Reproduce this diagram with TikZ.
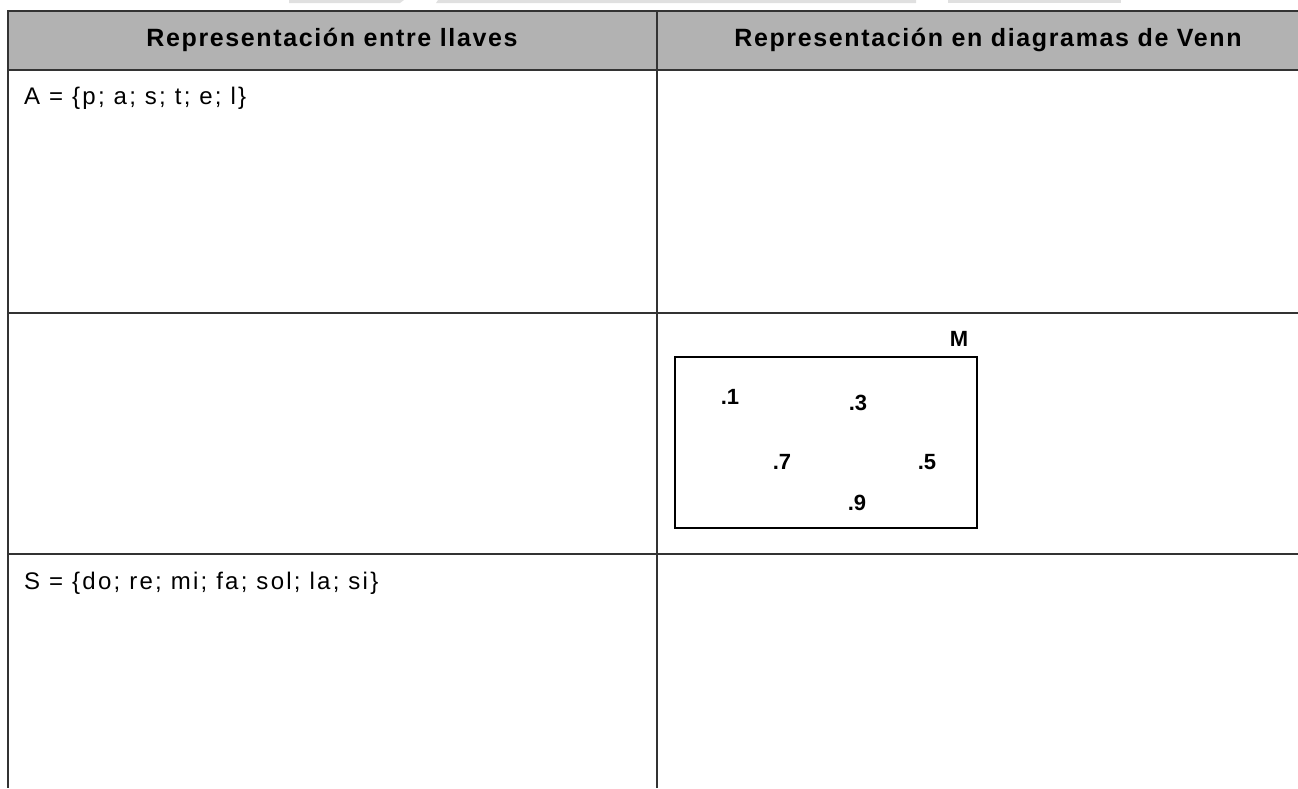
\documentclass[tikz,border=0pt]{standalone}
\usepackage{fontspec}
\setmainfont{Liberation Sans}
\newfontfamily\cellfont[LetterSpace=9.5]{Liberation Sans}
\newfontfamily\headfont[LetterSpace=6.5]{Liberation Sans}
\usetikzlibrary{positioning}

\begin{document}
\begin{tikzpicture}[x=1pt, y=-1pt,
    rule/.style={line width=1.8pt, draw=black!80},
    head/.style={inner sep=0pt, font=\headfont\bfseries\fontsize{25}{29}\selectfont},
    cell/.style={anchor=west, inner sep=0pt, font=\cellfont\fontsize{24}{28}\selectfont},
    elem/.style={inner sep=0pt, font=\bfseries\fontsize{22}{26}\selectfont}]
  \useasboundingbox (0,0) rectangle (1298,788);

  % faint shapes above the table
  \fill [black!12] (289,0) -- (404,0) -- (400,3) -- (289,3) -- cycle;
  \fill [black!12] (438,0) -- (916,0) -- (916,3) -- (436,3) -- cycle;
  \fill [black!12] (948,0) -- (1121,0) -- (1121,3) -- (948,3) -- cycle;

  % table
  \fill [black!30] (8,11) rectangle (1298,70);
  \draw [rule] (1298,11) -- (8,11) -- (8,788);
  \draw [rule] (657,11) -- (657,788);
  \draw [rule] (8,70) -- (1298,70);
  \draw [rule] (8,313) -- (1298,313);
  \draw [rule] (8,554) -- (1298,554);

  \node [head] (headLeft) at (332,40) {Representación entre llaves};
  \node [head] (headRight) at (988,40) {Representación en diagramas de Venn};

  \node [cell] (setA) at (24,98) {A = \{p; a; s; t; e; l\}};
  \node [cell] (setS) at (24,583) {S = \{do; re; mi; fa; sol; la; si\}};

  % Venn diagram of M
  \node [draw, line width=1.8pt, minimum width=302pt, minimum height=171pt, inner sep=0pt] (vennM) at (826,442.5) {};
  \node [elem] (labelM) at (959,339) {M};
  \node [elem] (elemOne) at (730,397) {.1};
  \node [elem] (elemThree) at (858,403) {.3};
  \node [elem] (elemSeven) at (782,462) {.7};
  \node [elem] (elemFive) at (927,462) {.5};
  \node [elem] (elemNine) at (857,503) {.9};
\end{tikzpicture}
\end{document}
